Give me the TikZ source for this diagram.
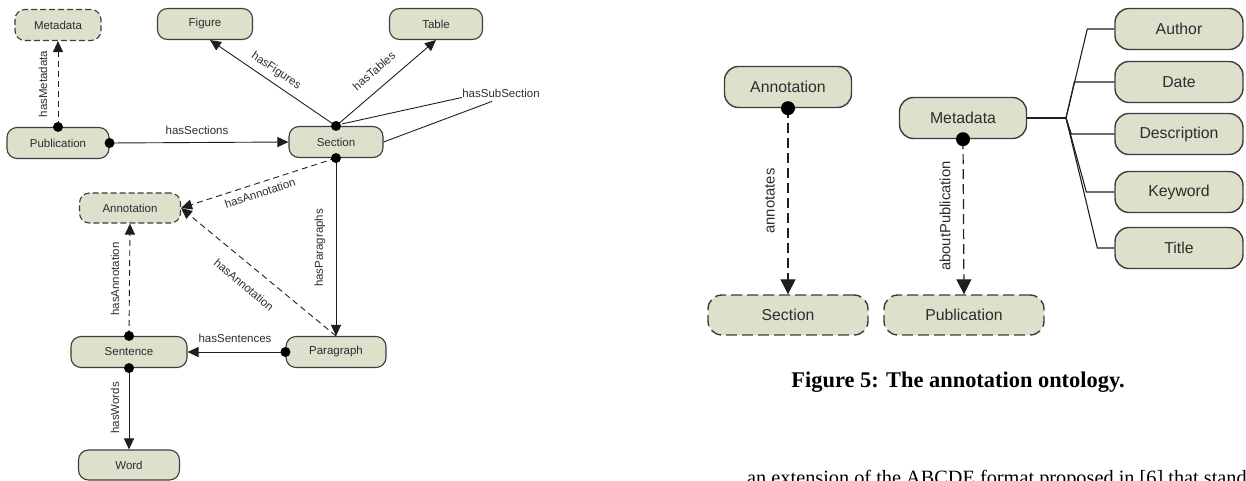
\documentclass[tikz,border=0pt]{standalone}
\usepackage{fontspec}
\setmainfont{Liberation Serif}
\setsansfont{Liberation Sans}
\usetikzlibrary{arrows.meta,calc}
\definecolor{entfill}{RGB}{221,224,203}
\definecolor{entline}{RGB}{60,60,60}
\definecolor{txt}{RGB}{45,45,45}
\definecolor{cline}{RGB}{30,30,30}
\tikzset{
  ent/.style={draw=entline, fill=entfill, line width=1.1pt, rounded corners=10pt,
    minimum height=31pt, inner sep=0pt, text=txt,
    font=\sffamily\fontsize{11.5}{13}\selectfont},
  entR/.style={ent, line width=1.4pt, rounded corners=14pt, minimum height=41pt,
    font=\sffamily\fontsize{15.8}{18}\selectfont},
  dnode/.style={dash pattern=on 6pt off 3pt},
  dnodeR/.style={dash pattern=on 11pt off 5pt},
  lbl/.style={font=\sffamily\fontsize{11.5}{13}\selectfont, text=txt, inner sep=1pt},
  lblR/.style={font=\sffamily\fontsize{14.8}{17}\selectfont, text=txt, inner sep=1pt},
  conn/.style={draw=cline, line width=0.9pt, -{Triangle[length=11pt,width=10pt]}},
  plain/.style={draw=cline, line width=0.9pt},
  connR/.style={draw=cline, line width=1.2pt, -{Triangle[length=15pt,width=15pt]}},
  plainR/.style={draw=cline, line width=1.1pt},
  dsh/.style={dash pattern=on 6pt off 4pt},
  dshR/.style={dash pattern=on 10pt off 5pt},
  dot/.style={fill=black},
}
\begin{document}
\begin{tikzpicture}[x=1pt,y=-1pt]
\useasboundingbox (0,0) rectangle (1246,481);
\clip (0,0) rectangle (1246,481);
% ---------- left diagram nodes
\node[ent,dnode,minimum width=86pt] (meta) at (58,25) {Metadata};
\node[ent,minimum width=95pt] (fig) at (205,24) {Figure};
\node[ent,minimum width=93pt] (tab) at (436,24) {Table};
\node[ent,minimum width=102pt] (pub) at (58,143) {Publication};
\node[ent,minimum width=94pt] (sec) at (336,142) {Section};
\node[ent,dnode,minimum width=101pt,minimum height=30pt] (ann) at (130,208) {Annotation};
\node[ent,minimum width=116pt] (sen) at (129,352) {Sentence};
\node[ent,minimum width=100pt] (par) at (336,352) {Paragraph};
\node[ent,minimum width=101pt,minimum height=30pt] (word) at (129,465) {Word};
% labels
\node[lbl,rotate=90] (lmeta) at (43,84) {hasMetadata};
\node[lbl] (lsecs) at (197,130) {hasSections};
\node[lbl,rotate=-34] (lfig) at (276,71) {hasFigures};
\node[lbl,rotate=41] (ltab) at (374,71) {hasTables};
\node[lbl] (lsub) at (501,93) {hasSubSection};
\node[lbl,rotate=18] (lann1) at (260,193) {hasAnnotation};
\node[lbl,rotate=-40] (lann2) at (244,285) {hasAnnotation};
\node[lbl,rotate=90] (lpar) at (320,248) {hasParagraphs};
\node[lbl,rotate=90] (lann3) at (115,279) {hasAnnotation};
\node[lbl] (lsen) at (235,338) {hasSentences};
\node[lbl,rotate=90] (lword) at (115,408) {hasWords};
% connectors
\draw[conn,dsh] (pub.north) -- (meta.south);
\draw[conn] (pub.east) -- (sec.west);
\draw[conn] (sec.north) -- ($(fig.south)+(5,0)$);
\draw[conn] (sec.north) -- (tab.south);
\draw[plain] ($(sec.north)+(6,-2)$) -- ($(lsub.south west)+(1,-1)$);
\draw[plain] ($(lsub.south)+(-9,3)$) -- (sec.east);
\draw[conn,dsh] (sec.south) -- (ann.east);
\draw[conn] (sec.south) -- (par.north);
\draw[conn,dsh] (par.north) -- (ann.east);
\draw[conn,dsh] (sen.north) -- (ann.south);
\draw[conn] (par.west) -- (sen.east);
\draw[conn] (sen.south) -- (word.north);
\foreach \p in {pub.north,pub.east,sec.north,sec.south,sen.north,sen.south,par.west}
  \fill[dot] (\p) circle (5pt);
% ---------- right diagram
\node[entR,minimum width=127pt] (annR) at (788,87) {Annotation};
\node[entR,minimum width=127pt] (metaR) at (963,118) {Metadata};
\node[entR,dnodeR,minimum width=160pt,minimum height=40pt] (secR) at (788,315) {Section};
\node[entR,dnodeR,minimum width=160pt,minimum height=40pt] (pubR) at (964,315) {Publication};
\node[entR,minimum width=128pt] (auth) at (1179,29) {Author};
\node[entR,minimum width=128pt] (date) at (1179,82) {Date};
\node[entR,minimum width=128pt] (desc) at (1179,134) {Description};
\node[entR,minimum width=128pt] (kw) at (1179,192) {Keyword};
\node[entR,minimum width=128pt] (title) at (1179,248) {Title};
\node[lblR,rotate=90] (lannot) at (770,201) {annotates};
\node[lblR,rotate=90] (labout) at (945,216) {aboutPublication};
\coordinate (jn) at (1066,118);
\draw[plainR] (metaR.east) -- (jn);
\draw[plainR] (jn) -- ($(auth.west)+(-27,0)$) -- (auth.west);
\draw[plainR] (jn) -- ($(date.west)+(-40,0)$) -- (date.west);
\draw[plainR] (jn) -- ($(desc.west)+(-43,0)$) -- (desc.west);
\draw[plainR] (jn) -- ($(kw.west)+(-28,0)$) -- (kw.west);
\draw[plainR] (jn) -- ($(title.west)+(-17,0)$) -- (title.west);
\draw[connR,dshR] (annR.south) -- (secR.north);
\draw[connR,dshR] (metaR.south) -- (pubR.north);
\fill[dot] (annR.south) circle (7pt);
\fill[dot] (metaR.south) circle (7pt);
% caption and body text
\node[font=\fontsize{22.4}{26}\selectfont\bfseries, inner sep=0pt] (cap) at (958,382) {Figure 5: The annotation ontology.};
\node[anchor=base west, font=\fontsize{20.3}{24}\selectfont, inner sep=0pt] (body) at (747,484) {an extension of the ABCDE format proposed in [6] that stand};
\end{tikzpicture}
\end{document}
